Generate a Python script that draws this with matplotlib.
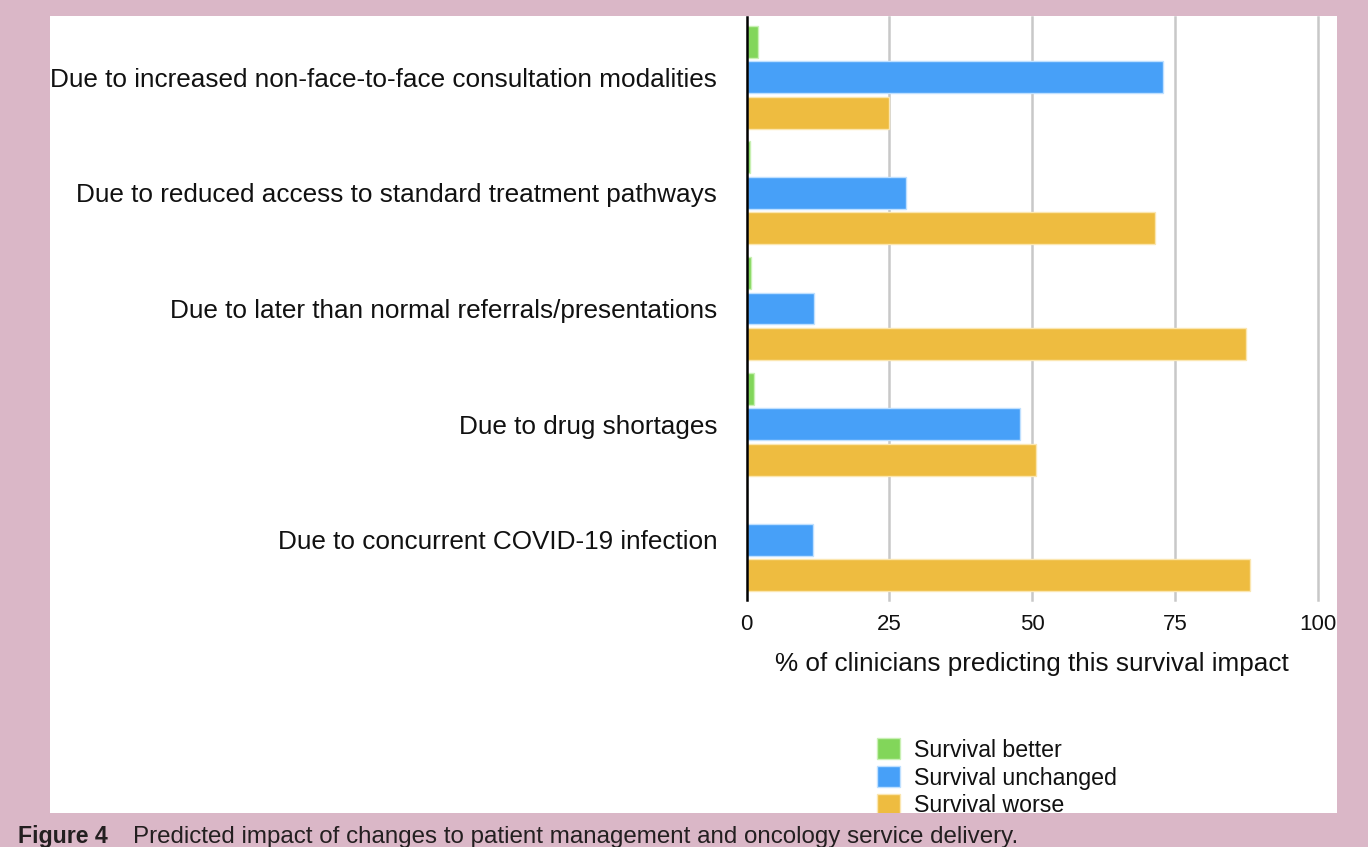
import matplotlib
matplotlib.use("Agg")
import matplotlib.pyplot as plt
from matplotlib.patches import Rectangle
import numpy as np

plt.rcParams['font.family'] = ['Liberation Sans', 'DejaVu Sans']

categories = [
    "Due to increased non-face-to-face consultation modalities",
    "Due to reduced access to standard treatment pathways",
    "Due to later than normal referrals/presentations",
    "Due to drug shortages",
    "Due to concurrent COVID-19 infection",
]
series_names = ["Survival better", "Survival unchanged", "Survival worse"]
better = [2.0, 0.6, 0.8, 1.4, 0.0]
unchanged = [72.9, 27.9, 11.8, 47.9, 11.6]
worse = [25.0, 71.5, 87.4, 50.7, 88.2]
xticks = [0, 25, 50, 75, 100]
xlabel = "% of clinicians predicting this survival impact"
caption_bold = "Figure 4"
caption_text = "Predicted impact of changes to patient management and oncology service delivery."

colors = ["#82d65a", "#47a0f8", "#eebc40"]
edges = ["#c9f0b4", "#bfe0ff", "#fbe6b0"]

W, H = 1368, 847
fig = plt.figure(figsize=(W / 100, H / 100), dpi=100)
fig.patch.set_facecolor("#dab7c7")
fig.add_artist(Rectangle((50 / W, 1 - 813 / H), (1337 - 50) / W, (813 - 16) / H,
                         transform=fig.transFigure, facecolor="white", edgecolor="none", zorder=-10))

ax = fig.add_axes([746.5 / W, 1 - 600 / H, (1317.8 - 746.5) / W, (600 - 17) / H])
ax.set_facecolor("none")

y = np.arange(len(categories))
off = 0.307
h = 0.275
for i, (vals, c, e, name) in enumerate(zip([better, unchanged, worse], colors, edges, series_names)):
    ax.barh(y + (i - 1) * off, vals, height=h, color=c, edgecolor=e, linewidth=1.0, label=name, zorder=3)

ax.set_ylim(len(categories) - 1 + 0.52, -0.52)
ax.set_xlim(0, 100)
ax.set_yticks(y)
ax.set_yticklabels(categories, fontsize=18.8, color="#111111")
ax.set_xticks(xticks)
ax.set_xticklabels([str(t) for t in xticks], fontsize=16, color="#111111")
ax.tick_params(axis="y", length=0, pad=21)
ax.tick_params(axis="x", length=0, pad=10)
ax.set_xlabel(xlabel, fontsize=18.8, color="#111111", labelpad=12)
for s in ["top", "right", "bottom"]:
    ax.spines[s].set_visible(False)
ax.spines["left"].set_color("black")
ax.spines["left"].set_linewidth(1.8)
ax.spines["left"].set_zorder(5)
ax.xaxis.grid(True, color="#c8c8c8", linewidth=1.8, zorder=0)
ax.set_axisbelow(True)
gls = ax.xaxis.get_gridlines()
gls[0].set_visible(False)
for gl in gls:
    gl.set_clip_on(False)

handles, labels = ax.get_legend_handles_labels()
leg = fig.legend(handles, labels, loc="upper left", bbox_to_anchor=(861 / W, 1 - 722 / H),
                 frameon=False, fontsize=16.7, handlelength=1.0, handleheight=1.0,
                 handletextpad=0.6, labelspacing=0.2, borderpad=0.2)
for t in leg.get_texts():
    t.set_color("#111111")

# pink caption band that clips the legend bottom
fig.add_artist(Rectangle((0, 0), 1, 1 - 813 / H, transform=fig.transFigure,
                         facecolor="#dab7c7", edgecolor="none", zorder=20))
fig.text(18 / W, 1 - 843 / H, caption_bold, fontsize=16.7, fontweight="bold",
         color="#231f20", va="baseline", ha="left", zorder=21)
fig.text(133 / W, 1 - 843 / H, caption_text, fontsize=17.4,
         color="#231f20", va="baseline", ha="left", zorder=21)

fig.savefig("out.png", dpi=100, facecolor=fig.get_facecolor())
